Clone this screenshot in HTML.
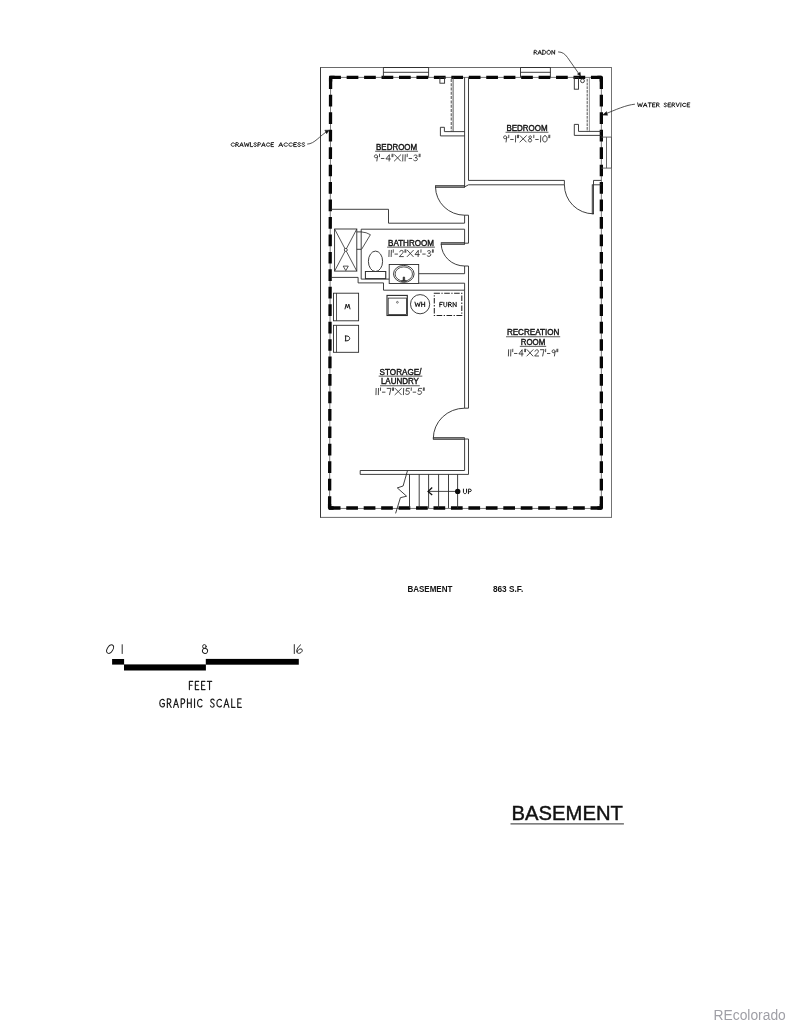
<!DOCTYPE html>
<html><head><meta charset="utf-8"><title>Basement Floor Plan</title>
<style>
html,body{margin:0;padding:0;background:#fff;}
body{width:791px;height:1024px;overflow:hidden;font-family:"Liberation Sans",sans-serif;}
svg{display:block;position:absolute;left:0;top:0;will-change:transform;}
svg text{font-family:"Liberation Sans",sans-serif;}
</style></head><body>
<svg width="791" height="1024" viewBox="0 0 791 1024">
<rect x="0" y="0" width="791" height="1024" fill="#ffffff"/>
<g fill="none" stroke-linecap="butt" stroke-linejoin="miter">
<line x1="320.5" y1="67.0" x2="320.5" y2="517.9" stroke="#383838" stroke-width="1.0" />
<line x1="320.5" y1="67.5" x2="611.5" y2="67.5" stroke="#6a6a6a" stroke-width="1.0" />
<line x1="611.5" y1="67.0" x2="611.5" y2="517.9" stroke="#737373" stroke-width="1.0" />
<line x1="320.5" y1="517.4" x2="611.5" y2="517.4" stroke="#6a6a6a" stroke-width="1.0" />
<path d="M330.6 77.4 L601.35 77.4 L601.35 508.45 L329.6 508.45 Z" fill="none" stroke="#555" stroke-width="0.8" />
<line x1="329.20000000000005" y1="77.4" x2="601.35" y2="77.4" stroke="#060606" stroke-width="3.3" stroke-dasharray="11.7 5.75"/>
<line x1="328.8" y1="508.0" x2="601.35" y2="508.0" stroke="#060606" stroke-width="3.3" stroke-dasharray="11.7 5.75"/>
<line x1="330.6" y1="77.4" x2="329.6" y2="508.0" stroke="#060606" stroke-width="3.3" stroke-dasharray="11.7 5.75"/>
<line x1="601.35" y1="77.4" x2="601.35" y2="508.0" stroke="#060606" stroke-width="3.3" stroke-dasharray="11.7 5.75"/>
<path d="M334.6 77.4 L330.6 77.4 L330.6 81.4" fill="none" stroke="#060606" stroke-width="3.3" stroke-linejoin="round"/>
<path d="M597.35 77.4 L601.35 77.4 L601.35 81.4" fill="none" stroke="#060606" stroke-width="3.3" stroke-linejoin="round"/>
<path d="M597.35 508.0 L601.35 508.0 L601.35 504.0" fill="none" stroke="#060606" stroke-width="3.3" stroke-linejoin="round"/>
<path d="M333.6 508.0 L329.6 508.0 L329.6 504.0" fill="none" stroke="#060606" stroke-width="3.3" stroke-linejoin="round"/>
<path d="M383.4 77.4 L383.4 67.5 L428.6 67.5 L428.6 77.4" fill="none" stroke="#2a2a2a" stroke-width="0.9" />
<line x1="383.4" y1="72.3" x2="428.6" y2="72.3" stroke="#2a2a2a" stroke-width="0.9" />
<path d="M520.5 77.4 L520.5 67.5 L550.4 67.5 L550.4 77.4" fill="none" stroke="#2a2a2a" stroke-width="0.9" />
<line x1="520.5" y1="72.3" x2="550.4" y2="72.3" stroke="#2a2a2a" stroke-width="0.9" />
<path d="M601.35 137.1 L611.5 137.1 L611.5 168.1 L601.35 168.1" fill="none" stroke="#555" stroke-width="0.9" />
<line x1="606.5" y1="137.1" x2="606.5" y2="168.1" stroke="#555" stroke-width="0.9" />
<line x1="464.6" y1="77.4" x2="464.6" y2="186.9" stroke="#2a2a2a" stroke-width="0.9" />
<path d="M468.5 77.4 L468.5 180.4 L564.4 180.4 L564.4 184.8 L468.5 184.8 L464.6 186.9" fill="none" stroke="#2a2a2a" stroke-width="0.9" />
<rect x="439.9" y="77.4" width="4.7" height="5.8" fill="none" stroke="#2a2a2a" stroke-width="0.9" />
<line x1="451.3" y1="78.9" x2="451.3" y2="131.5" stroke="#777" stroke-width="1.3" stroke-dasharray="3 1.3"/>
<line x1="453.1" y1="77.4" x2="453.1" y2="131.5" stroke="#444" stroke-width="0.9" />
<path d="M464.6 131.6 L444.4 131.6 L444.4 127.3 L440.4 127.3 L440.4 135.9 L464.6 135.9" fill="none" stroke="#2a2a2a" stroke-width="0.9" />
<rect x="574.3" y="77.4" width="4.2" height="11.8" fill="none" stroke="#2a2a2a" stroke-width="0.9" />
<line x1="587.2" y1="78.9" x2="587.2" y2="131.4" stroke="#333" stroke-width="0.85" stroke-dasharray="2.8 0.9"/>
<line x1="589.4" y1="77.4" x2="589.4" y2="131.4" stroke="#777" stroke-width="0.8" />
<path d="M601.35 131.4 L578.5 131.4 L578.5 124.4 L574.3 124.4 L574.3 135.4 L601.35 135.4" fill="none" stroke="#2a2a2a" stroke-width="0.9" />
<circle cx="582.5" cy="80.8" r="1.9" fill="none" stroke="#2a2a2a" stroke-width="0.9"/>
<path d="M564.4 184.8 A29 29 0 0 0 593.4 213.8" fill="none" stroke="#2a2a2a" stroke-width="0.9" />
<rect x="592.2" y="184.8" width="1.4" height="29.0" fill="#999" stroke="#2a2a2a" stroke-width="0.8" />
<path d="M601.35 180.4 L593.5 180.4 L593.5 184.8 L601.35 184.8" fill="none" stroke="#2a2a2a" stroke-width="0.9" />
<rect x="435.5" y="185.7" width="29.1" height="1.6" fill="#999" stroke="#2a2a2a" stroke-width="0.8" />
<path d="M435.5 187 A29.2 28.5 0 0 0 464.6 215.2" fill="none" stroke="#2a2a2a" stroke-width="0.9" />
<path d="M464.6 215.2 L468.5 215.2 L468.5 243.2 L464.6 243.2" fill="none" stroke="#2a2a2a" stroke-width="0.9" />
<line x1="464.6" y1="215.2" x2="464.6" y2="223.1" stroke="#2a2a2a" stroke-width="0.9" />
<line x1="464.6" y1="229.2" x2="464.6" y2="243.2" stroke="#2a2a2a" stroke-width="0.9" />
<path d="M464.6 223.2 L388.5 223.2 L388.5 209.3 L330.6 209.3" fill="none" stroke="#2a2a2a" stroke-width="0.9" />
<line x1="464.6" y1="229.2" x2="361.2" y2="229.2" stroke="#2a2a2a" stroke-width="0.9" />
<rect x="441.2" y="242.7" width="23.4" height="1.6" fill="#999" stroke="#2a2a2a" stroke-width="0.8" />
<path d="M441.2 244 A23.4 22.5 0 0 0 464.6 266" fill="none" stroke="#2a2a2a" stroke-width="0.9" />
<path d="M464.6 266 L468.5 266 L468.5 408.2 L464.6 408.2" fill="none" stroke="#2a2a2a" stroke-width="0.9" />
<line x1="464.6" y1="266" x2="464.6" y2="273.7" stroke="#2a2a2a" stroke-width="0.9" />
<line x1="464.6" y1="273.7" x2="418.7" y2="273.7" stroke="#2a2a2a" stroke-width="0.9" />
<line x1="464.6" y1="283.2" x2="418.7" y2="283.2" stroke="#2a2a2a" stroke-width="0.9" />
<line x1="464.6" y1="283.2" x2="464.6" y2="290.2" stroke="#2a2a2a" stroke-width="0.9" />
<path d="M330.6 277.4 L358.1 277.4 L358.1 282.9 L383.5 282.9 L383.5 290.2 L464.6 290.2 L464.6 408.2" fill="none" stroke="#2a2a2a" stroke-width="0.9" />
<path d="M361.2 229.2 L361.2 279.1 L389.2 279.1" fill="none" stroke="#2a2a2a" stroke-width="0.9" />
<rect x="334.6" y="229.0" width="22.2" height="42.1" fill="none" stroke="#2a2a2a" stroke-width="0.9" />
<line x1="334.6" y1="229" x2="356.8" y2="271.1" stroke="#2a2a2a" stroke-width="0.8" />
<line x1="356.8" y1="229" x2="334.6" y2="271.1" stroke="#2a2a2a" stroke-width="0.8" />
<circle cx="345.8" cy="249.9" r="1.5" fill="#fff" stroke="#2a2a2a" stroke-width="0.8"/>
<path d="M343.2 266.1 L348.3 266.1 L345.8 270.6 Z" fill="none" stroke="#2a2a2a" stroke-width="0.8" />
<line x1="356.8" y1="231.9" x2="361.2" y2="231.9" stroke="#2a2a2a" stroke-width="0.9" />
<line x1="356.8" y1="249.3" x2="361.2" y2="249.3" stroke="#2a2a2a" stroke-width="0.9" />
<path d="M361.2 231.9 Q366.5 232.2 370.4 234.7 L361.6 249.3" fill="none" stroke="#2a2a2a" stroke-width="0.8" />
<rect x="365.4" y="271.5" width="20.3" height="7.1" fill="#fff" stroke="#2a2a2a" stroke-width="0.9" />
<ellipse cx="375.5" cy="261.3" rx="7.1" ry="10.2" fill="#fff" stroke="#2a2a2a" stroke-width="0.9"/>
<rect x="365.4" y="271.5" width="20.3" height="7.1" fill="#fff" stroke="#2a2a2a" stroke-width="0.9" />
<rect x="389.2" y="264.5" width="29.5" height="19.0" fill="#fff" stroke="#2a2a2a" stroke-width="0.9" />
<ellipse cx="403.8" cy="273.9" rx="10.3" ry="8.5" fill="none" stroke="#2a2a2a" stroke-width="0.9"/>
<ellipse cx="403.8" cy="274.0" rx="8.7" ry="7.1" fill="none" stroke="#2a2a2a" stroke-width="0.8"/>
<path d="M401.2 281.3 L403 280.5 L403.2 277 L404.6 277 L404.8 280.5 L406.6 281.3 Z" fill="#333" stroke="#2a2a2a" stroke-width="0.6" />
<rect x="333.5" y="293.2" width="25.1" height="27.6" fill="none" stroke="#2a2a2a" stroke-width="0.9" />
<line x1="336.5" y1="293.2" x2="336.5" y2="320.8" stroke="#2a2a2a" stroke-width="0.8" />
<rect x="333.5" y="325.3" width="25.1" height="27.0" fill="none" stroke="#2a2a2a" stroke-width="0.9" />
<line x1="336.5" y1="325.3" x2="336.5" y2="352.3" stroke="#2a2a2a" stroke-width="0.8" />
<rect x="387.0" y="295.4" width="20.3" height="20.1" fill="none" stroke="#2a2a2a" stroke-width="1.1" />
<rect x="388.2" y="298.1" width="18.2" height="16.3" fill="none" stroke="#2a2a2a" stroke-width="0.8" />
<circle cx="397.4" cy="302.3" r="0.9" fill="none" stroke="#2a2a2a" stroke-width="0.6"/>
<circle cx="420.1" cy="304.2" r="9.6" fill="none" stroke="#2a2a2a" stroke-width="0.9"/>
<rect x="434.3" y="293.3" width="27.5" height="22.2" fill="none" stroke="#222" stroke-width="1.05" stroke-dasharray="5.6 1.5 1.3 1.5"/>
<path d="M464.6 408.2 A31.3 30.3 0 0 0 433.3 438.5" fill="none" stroke="#2a2a2a" stroke-width="0.9" />
<rect x="433.3" y="437.7" width="31.3" height="1.6" fill="#999" stroke="#2a2a2a" stroke-width="0.8" />
<path d="M464.6 439 L464.6 470.5 L360.2 470.5 L360.2 474.4 L468.5 474.4 L468.5 439 L464.6 439" fill="none" stroke="#2a2a2a" stroke-width="0.9" />
<line x1="409.5" y1="474.4" x2="409.5" y2="508.0" stroke="#2a2a2a" stroke-width="0.9" />
<line x1="419.2" y1="474.4" x2="419.2" y2="508.0" stroke="#2a2a2a" stroke-width="0.9" />
<line x1="428.6" y1="474.4" x2="428.6" y2="508.0" stroke="#2a2a2a" stroke-width="0.9" />
<line x1="438.6" y1="474.4" x2="438.6" y2="508.0" stroke="#2a2a2a" stroke-width="0.9" />
<line x1="448.5" y1="474.4" x2="448.5" y2="508.0" stroke="#2a2a2a" stroke-width="0.9" />
<line x1="457.6" y1="474.4" x2="457.6" y2="508.0" stroke="#2a2a2a" stroke-width="0.9" />
<line x1="457.6" y1="491.4" x2="428" y2="491.4" stroke="#2a2a2a" stroke-width="0.85" />
<path d="M432.2 487.6 L428.1 491.4 L432.2 495.0" fill="none" stroke="#111" stroke-width="1.3" />
<circle cx="457.7" cy="491.4" r="2.7" fill="#0a0a0a"/>
<path d="M407.5 470.5 L403.1 486.0 L397.3 487.9 L406.6 496.2 L400.4 497.7 L395.6 513.4" fill="none" stroke="#2a2a2a" stroke-width="0.9" />
<path d="M307.2 144.1 C315 143.8 319 136 328.5 130.6" fill="none" stroke="#2a2a2a" stroke-width="0.8" />
<path d="M324.8 130.2 L329.2 130.2 L326.6 133.8 Z" fill="#111" stroke="#2a2a2a" stroke-width="0.5" />
<path d="M558.1 51.9 C562.5 52 565 54 567.5 57.5 L580.2 75.6" fill="none" stroke="#2a2a2a" stroke-width="0.8" />
<path d="M577.4 74.0 L580.6 76.2 L580.2 72.3 Z" fill="#111" stroke="#2a2a2a" stroke-width="0.5" />
<path d="M634.9 104.2 C626 105 616 109.6 603.2 114.8" fill="none" stroke="#2a2a2a" stroke-width="0.8" />
<path d="M606.5 111.6 L602.6 115.1 L607.6 115.3 Z" fill="#111" stroke="#2a2a2a" stroke-width="0.5" />
<rect x="112.1" y="659.0" width="12.0" height="5.6" fill="#000"/>
<rect x="124.0" y="664.4" width="81.9" height="6.1" fill="#000"/>
<rect x="205.8" y="658.9" width="93.0" height="5.8" fill="#000"/>
</g>
<filter id="idf" x="0" y="0" width="791" height="1024" filterUnits="userSpaceOnUse"><feOffset dx="0" dy="0"/></filter>
<g filter="url(#idf)">
<text x="396.6" y="149.6" font-size="8.8" text-anchor="middle" font-weight="normal" fill="#111" stroke="#111" stroke-width="0.4" textLength="41.1" lengthAdjust="spacingAndGlyphs">BEDROOM</text>
<line x1="375.15" y1="151.25" x2="418.05" y2="151.25" stroke="#222" stroke-width="0.75"/>
<text x="527.0" y="130.6" font-size="8.8" text-anchor="middle" font-weight="normal" fill="#111" stroke="#111" stroke-width="0.4" textLength="41.1" lengthAdjust="spacingAndGlyphs">BEDROOM</text>
<line x1="505.55" y1="132.25" x2="548.45" y2="132.25" stroke="#222" stroke-width="0.75"/>
<text x="411.0" y="245.5" font-size="8.8" text-anchor="middle" font-weight="normal" fill="#111" stroke="#111" stroke-width="0.4" textLength="46.0" lengthAdjust="spacingAndGlyphs">BATHROOM</text>
<line x1="387.10" y1="247.15" x2="434.90" y2="247.15" stroke="#222" stroke-width="0.75"/>
<text x="400.5" y="374.5" font-size="8.8" text-anchor="middle" font-weight="normal" fill="#111" stroke="#111" stroke-width="0.4" textLength="41.8" lengthAdjust="spacingAndGlyphs">STORAGE/</text>
<line x1="378.70" y1="376.15" x2="422.30" y2="376.15" stroke="#222" stroke-width="0.75"/>
<text x="399.9" y="384.1" font-size="8.8" text-anchor="middle" font-weight="normal" fill="#111" stroke="#111" stroke-width="0.4" textLength="38.0" lengthAdjust="spacingAndGlyphs">LAUNDRY</text>
<line x1="380.00" y1="385.75" x2="419.80" y2="385.75" stroke="#222" stroke-width="0.75"/>
<text x="533.1" y="335.1" font-size="8.8" text-anchor="middle" font-weight="normal" fill="#111" stroke="#111" stroke-width="0.4" textLength="52.4" lengthAdjust="spacingAndGlyphs">RECREATION</text>
<line x1="506.00" y1="336.75" x2="560.20" y2="336.75" stroke="#222" stroke-width="0.75"/>
<text x="533.0" y="344.7" font-size="8.8" text-anchor="middle" font-weight="normal" fill="#111" stroke="#111" stroke-width="0.4" textLength="24.6" lengthAdjust="spacingAndGlyphs">ROOM</text>
<line x1="519.80" y1="346.35" x2="546.20" y2="346.35" stroke="#222" stroke-width="0.75"/>
<text x="407.4" y="591.8" font-size="8.8" text-anchor="start" font-weight="bold" fill="#111" textLength="45.0" lengthAdjust="spacingAndGlyphs">BASEMENT</text>
<text x="492.9" y="591.8" font-size="8.8" text-anchor="start" font-weight="bold" fill="#111" textLength="30.4" lengthAdjust="spacingAndGlyphs">863 S.F.</text>
<text x="511.6" y="820.0" font-size="21" text-anchor="start" font-weight="normal" fill="#111" stroke="#111" stroke-width="0.45" textLength="111.3" lengthAdjust="spacingAndGlyphs">BASEMENT</text>
<line x1="510.5" y1="823.9" x2="623.9" y2="823.9" stroke="#555" stroke-width="1.3"/>
<text x="713.5" y="1019.7" font-size="14" text-anchor="start" font-weight="normal" fill="#9f9fa6" textLength="72.3" lengthAdjust="spacingAndGlyphs">REcolorado</text>
</g>
<g fill="none" stroke-linecap="round" stroke-linejoin="round">
<path d="M377.55 156.34 C377.59 155.08 376.43 154.70 375.69 154.83 C374.37 155.01 374.03 156.59 374.74 157.35 C375.59 158.10 377.37 157.60 377.55 156.34 L376.83 161.00 M379.52 154.20 L379.45 156.72 M381.30 158.48 L383.94 158.48 M389.15 161.00 L389.34 154.70 L385.91 158.98 L390.38 158.98 M392.07 154.20 L391.99 156.72 M392.95 154.20 L392.87 156.72 M394.55 154.70 L400.59 161.00 M400.78 154.70 L394.36 161.00 M402.91 154.70 L402.72 161.00 M405.25 154.70 L405.06 161.00 M407.25 154.20 L407.17 156.72 M409.03 158.48 L411.67 158.48 M413.95 155.58 C414.71 154.70 417.07 154.51 417.17 156.09 C417.21 157.22 416.09 157.60 415.07 157.60 C416.61 157.60 417.69 158.35 417.43 159.49 C417.09 161.00 414.52 161.25 413.60 160.12 M419.20 154.20 L419.13 156.72 M420.08 154.20 L420.01 156.72" stroke="#2a2a2a" stroke-width="0.85" fill="none"/>
<path d="M506.79 137.34 C506.83 136.08 505.66 135.70 504.91 135.83 C503.57 136.01 503.23 137.59 503.95 138.35 C504.81 139.10 506.61 138.60 506.79 137.34 L506.06 142.00 M508.79 135.20 L508.71 137.72 M510.59 139.48 L513.25 139.48 M515.67 135.70 L515.48 142.00 M517.61 135.20 L517.53 137.72 M518.50 135.20 L518.42 137.72 M520.11 135.70 L526.23 142.00 M526.41 135.70 L519.92 142.00 M530.11 138.60 C528.56 138.47 528.48 135.95 530.19 135.83 C531.90 135.70 531.67 138.47 530.11 138.60 C527.95 138.85 527.71 142.00 530.01 142.00 C532.30 142.00 532.25 138.85 530.11 138.60 M533.84 135.20 L533.77 137.72 M535.64 139.48 L538.31 139.48 M540.72 135.70 L540.53 142.00 M545.02 135.70 C543.32 135.70 542.75 137.46 542.70 138.85 C542.66 140.43 543.13 142.00 544.83 142.00 C546.54 142.00 547.10 140.43 547.15 138.85 C547.19 137.46 546.73 135.70 545.02 135.70 M548.89 135.20 L548.82 137.72 M549.78 135.20 L549.71 137.72" stroke="#2a2a2a" stroke-width="0.85" fill="none"/>
<path d="M389.12 250.30 L388.93 256.60 M391.37 250.30 L391.18 256.60 M393.29 249.80 L393.21 252.32 M394.98 254.08 L397.52 254.08 M399.69 251.81 C399.87 250.68 401.15 250.30 401.99 250.43 C403.39 250.62 403.48 252.19 402.46 253.32 L399.34 256.60 L403.35 256.60 M405.03 249.80 L404.95 252.32 M405.87 249.80 L405.80 252.32 M407.40 250.30 L413.19 256.60 M413.38 250.30 L407.21 256.60 M418.11 256.60 L418.30 250.30 L415.01 254.58 L419.30 254.58 M420.99 249.80 L420.91 252.32 M422.69 254.08 L425.22 254.08 M427.42 251.18 C428.15 250.30 430.40 250.11 430.49 251.69 C430.53 252.82 429.46 253.20 428.48 253.20 C429.96 253.20 430.99 253.95 430.74 255.09 C430.42 256.60 427.95 256.85 427.07 255.72 M432.45 249.80 L432.37 252.32 M433.29 249.80 L433.22 252.32" stroke="#2a2a2a" stroke-width="0.85" fill="none"/>
<path d="M376.16 388.40 L375.97 394.70 M378.53 388.40 L378.34 394.70 M380.55 387.90 L380.48 390.42 M382.35 392.18 L385.03 392.18 M387.15 388.40 L390.93 388.40 L389.55 394.70 M392.65 387.90 L392.58 390.42 M393.55 387.90 L393.47 390.42 M395.16 388.40 L401.28 394.70 M401.47 388.40 L394.97 394.70 M403.63 388.40 L403.44 394.70 M409.42 388.40 L406.52 388.40 L405.99 391.17 C407.20 390.42 409.57 390.79 409.44 392.56 C409.31 394.57 406.62 395.08 405.54 393.94 M411.29 387.90 L411.21 390.42 M413.09 392.18 L415.76 392.18 M421.59 388.40 L418.70 388.40 L418.17 391.17 C419.38 390.42 421.74 390.79 421.62 392.56 C421.48 394.57 418.79 395.08 417.72 393.94 M423.39 387.90 L423.31 390.42 M424.28 387.90 L424.21 390.42" stroke="#2a2a2a" stroke-width="0.85" fill="none"/>
<path d="M508.62 349.70 L508.43 356.00 M510.86 349.70 L510.67 356.00 M512.77 349.20 L512.69 351.72 M514.46 353.48 L516.98 353.48 M521.95 356.00 L522.13 349.70 L518.85 353.98 L523.13 353.98 M524.74 349.20 L524.67 351.72 M525.58 349.20 L525.51 351.72 M527.11 349.70 L532.87 356.00 M533.06 349.70 L526.92 356.00 M534.97 351.21 C535.15 350.08 536.42 349.70 537.26 349.83 C538.65 350.01 538.74 351.59 537.73 352.72 L534.62 356.00 L538.61 356.00 M540.41 349.70 L543.98 349.70 L542.67 356.00 M545.68 349.20 L545.60 351.72 M547.37 353.48 L549.89 353.48 M555.14 351.34 C555.18 350.08 554.07 349.70 553.36 349.83 C552.10 350.01 551.77 351.59 552.45 352.35 C553.27 353.10 554.96 352.60 555.14 351.34 L554.44 356.00 M556.95 349.20 L556.88 351.72 M557.79 349.20 L557.72 351.72" stroke="#2a2a2a" stroke-width="0.85" fill="none"/>
<path d="M234.46 143.32 C233.73 142.40 231.23 142.76 231.14 144.60 C231.05 146.44 233.51 146.80 234.33 145.88 M235.75 146.60 L235.95 142.60 L237.21 142.60 C238.95 142.68 238.86 144.60 237.11 144.72 L235.84 144.72 M237.11 144.72 L238.56 146.60 M239.68 146.60 L241.63 142.60 L243.18 146.60 M240.38 145.24 L242.71 145.24 M244.44 142.60 L245.36 146.60 L246.78 143.32 L247.88 146.60 L249.20 142.60 M250.51 142.60 L250.31 146.60 L252.64 146.60 M256.50 143.20 C255.91 142.40 254.10 142.52 254.05 143.60 C254.00 144.60 256.43 144.52 256.38 145.60 C256.32 146.80 254.23 146.80 253.74 145.88 M257.88 146.60 L258.08 142.60 L259.34 142.60 C261.08 142.68 260.98 144.72 259.23 144.84 L257.97 144.84 M261.62 146.60 L263.56 142.60 L265.11 146.60 M262.32 145.24 L264.64 145.24 M269.69 143.32 C268.96 142.40 266.47 142.76 266.38 144.60 C266.28 146.44 268.74 146.80 269.56 145.88 M273.61 142.60 L271.18 142.60 L270.98 146.60 L273.51 146.60 M271.09 144.52 L273.03 144.52" stroke="#1e1e1e" stroke-width="0.95" fill="none"/>
<path d="M278.76 146.60 L280.85 142.60 L282.53 146.60 M279.51 145.24 L282.02 145.24 M287.46 143.32 C286.67 142.40 283.98 142.76 283.89 144.60 C283.80 146.44 286.45 146.80 287.33 145.88 M292.28 143.32 C291.49 142.40 288.80 142.76 288.71 144.60 C288.62 146.44 291.27 146.80 292.15 145.88 M296.51 142.60 L293.89 142.60 L293.69 146.60 L296.41 146.60 M293.79 144.52 L295.89 144.52 M300.56 143.20 C299.92 142.40 297.98 142.52 297.92 143.60 C297.87 144.60 300.50 144.52 300.44 145.60 C300.38 146.80 298.13 146.80 297.60 145.88 M304.75 143.20 C304.11 142.40 302.17 142.52 302.11 143.60 C302.06 144.60 304.69 144.52 304.63 145.60 C304.57 146.80 302.32 146.80 301.79 145.88" stroke="#1e1e1e" stroke-width="0.95" fill="none"/>
<path d="M534.07 54.30 L534.27 50.30 L535.50 50.30 C537.20 50.38 537.11 52.30 535.40 52.42 L534.17 52.42 M535.40 52.42 L536.82 54.30 M537.91 54.30 L539.81 50.30 L541.32 54.30 M538.59 52.94 L540.86 52.94 M542.89 50.30 L542.69 54.30 M542.61 50.30 L543.84 50.30 C546.58 50.46 546.39 54.14 543.64 54.30 L542.41 54.30 M548.81 50.30 C547.48 50.30 546.96 51.30 546.91 52.30 C546.86 53.30 547.28 54.30 548.61 54.30 C549.93 54.30 550.46 53.30 550.51 52.30 C550.56 51.30 550.13 50.30 548.81 50.30 M551.78 54.30 L551.98 50.30 L554.53 54.30 L554.73 50.30" stroke="#1e1e1e" stroke-width="0.95" fill="none"/>
<path d="M637.65 102.90 L638.58 106.90 L640.03 103.62 L641.15 106.90 L642.48 102.90 M643.36 106.90 L645.34 102.90 L646.91 106.90 M644.07 105.54 L646.44 105.54 M648.15 102.90 L651.40 102.90 M649.77 102.90 L649.57 106.90 M655.15 102.90 L652.68 102.90 L652.48 106.90 L655.05 106.90 M652.59 104.82 L654.56 104.82 M656.43 106.90 L656.63 102.90 L657.91 102.90 C659.68 102.98 659.58 104.90 657.80 105.02 L656.52 105.02 M657.80 105.02 L659.29 106.90 M666.60 103.50 C666.00 102.70 664.17 102.82 664.12 103.90 C664.07 104.90 666.54 104.82 666.48 105.90 C666.42 107.10 664.30 107.10 663.81 106.18 M670.68 102.90 L668.21 102.90 L668.01 106.90 L670.58 106.90 M668.12 104.82 L670.09 104.82 M671.96 106.90 L672.16 102.90 L673.44 102.90 C675.21 102.98 675.11 104.90 673.33 105.02 L672.05 105.02 M673.33 105.02 L674.82 106.90 M676.15 102.90 L677.58 106.90 L679.40 102.90 M680.98 102.90 L680.78 106.90 M685.82 103.62 C685.08 102.70 682.55 103.06 682.46 104.90 C682.37 106.74 684.86 107.10 685.70 106.18 M689.80 102.90 L687.34 102.90 L687.14 106.90 L689.70 106.90 M687.24 104.82 L689.22 104.82" stroke="#1e1e1e" stroke-width="0.95" fill="none"/>
<path d="M414.96 302.10 L416.19 306.60 L417.59 302.91 L418.98 306.60 L420.21 302.10 M421.66 302.10 L421.66 306.60 M424.66 302.10 L424.66 306.60 M421.66 304.35 L424.66 304.35" stroke="#1c1c1c" stroke-width="1.0" fill="none"/>
<path d="M442.46 302.30 L439.83 302.30 L439.83 306.80 M439.83 304.46 L441.83 304.46 M443.83 302.30 L443.83 305.23 C443.83 307.25 446.79 307.25 446.79 305.23 L446.79 302.30 M448.58 306.80 L448.58 302.30 L449.95 302.30 C451.85 302.39 451.85 304.55 449.95 304.69 L448.58 304.69 M449.95 304.69 L451.64 306.80 M453.11 306.80 L453.11 302.30 L456.17 306.80 L456.17 302.30" stroke="#1c1c1c" stroke-width="1.0" fill="none"/>
<path d="M345.00 304.10 L346.18 308.90 L347.50 304.96 L348.83 308.90 L350.00 304.10" stroke="#1c1c1c" stroke-width="1.0" fill="none" transform="translate(0 613.00) scale(1 -1)"/>
<path d="M345.64 336.00 L345.64 340.80 M345.26 336.00 L346.92 336.00 C350.64 336.19 350.64 340.61 346.92 340.80 L345.26 340.80" stroke="#1c1c1c" stroke-width="1.0" fill="none" transform="translate(0 676.80) scale(1 -1)"/>
<path d="M463.45 489.10 L463.45 492.09 C463.45 494.16 466.53 494.16 466.53 492.09 L466.53 489.10 M468.41 493.70 L468.41 489.10 L469.84 489.10 C471.82 489.19 471.82 491.54 469.84 491.68 L468.41 491.68" stroke="#1c1c1c" stroke-width="1.0" fill="none"/>
<ellipse cx="110.1" cy="649.1" rx="2.8" ry="4.7" transform="rotate(30 110.1 649.1)" stroke="#222" stroke-width="0.95" fill="none"/>
<path d="M122.2 644.7 L122.2 653.5 M294.3 644.6 L294.3 653.5" stroke="#222" stroke-width="0.95" fill="none"/>
<ellipse cx="204.4" cy="646.5" rx="1.8" ry="1.9" stroke="#222" stroke-width="0.95" fill="none"/>
<ellipse cx="205.0" cy="650.9" rx="2.6" ry="2.5" transform="rotate(20 205 650.9)" stroke="#222" stroke-width="0.95" fill="none"/>
<path d="M300.6 644.8 C298.2 646.6 296.5 649.5 296.7 651.6 C296.9 653.6 299.5 653.8 301.2 652.4 C302.8 651 302.7 649.2 301 648.9 C299.4 648.7 297.6 650.2 297.2 651.8" stroke="#222" stroke-width="0.95" fill="none"/>
<path d="M192.77 681.30 L189.38 681.30 L189.38 689.60 M189.38 685.28 L191.96 685.28 M198.74 681.30 L195.35 681.30 L195.35 689.60 L198.88 689.60 M195.35 685.28 L198.06 685.28 M204.98 681.30 L201.59 681.30 L201.59 689.60 L205.12 689.60 M201.59 685.28 L204.30 685.28 M207.29 681.30 L211.76 681.30 M209.53 681.30 L209.53 689.60" stroke="#1c1c1c" stroke-width="1.15" fill="none"/>
<path d="M164.24 700.43 C163.16 698.48 159.74 699.24 159.74 703.15 C159.74 707.06 163.16 707.82 164.37 705.70 L164.37 703.57 L162.49 703.57 M167.33 707.40 L167.33 698.90 L169.07 698.90 C171.49 699.07 171.49 703.15 169.07 703.40 L167.33 703.40 M169.07 703.40 L171.22 707.40 M173.58 707.40 L176.00 698.90 L178.41 707.40 M174.45 704.51 L177.67 704.51 M181.17 707.40 L181.17 698.90 L182.92 698.90 C185.33 699.07 185.33 703.40 182.92 703.66 L181.17 703.66 M187.48 698.90 L187.48 707.40 M191.25 698.90 L191.25 707.40 M187.48 703.15 L191.25 703.15 M194.54 698.90 L194.54 707.40 M202.00 700.43 C200.92 698.48 197.50 699.24 197.50 703.15 C197.50 707.06 200.92 707.82 202.00 705.87" stroke="#1c1c1c" stroke-width="1.15" fill="none"/>
<path d="M214.18 700.17 C213.29 698.48 210.75 698.73 210.75 701.02 C210.75 703.15 214.18 702.98 214.18 705.27 C214.18 707.82 211.23 707.82 210.47 705.87 M221.44 700.43 C220.35 698.48 216.85 699.24 216.85 703.15 C216.85 707.06 220.35 707.82 221.44 705.87 M223.98 707.40 L226.45 698.90 L228.92 707.40 M224.87 704.51 L228.16 704.51 M231.73 698.90 L231.73 707.40 L235.02 707.40 M241.19 698.90 L237.76 698.90 L237.76 707.40 L241.33 707.40 M237.76 702.98 L240.50 702.98" stroke="#1c1c1c" stroke-width="1.15" fill="none"/>
</g>
</svg>
</body></html>
